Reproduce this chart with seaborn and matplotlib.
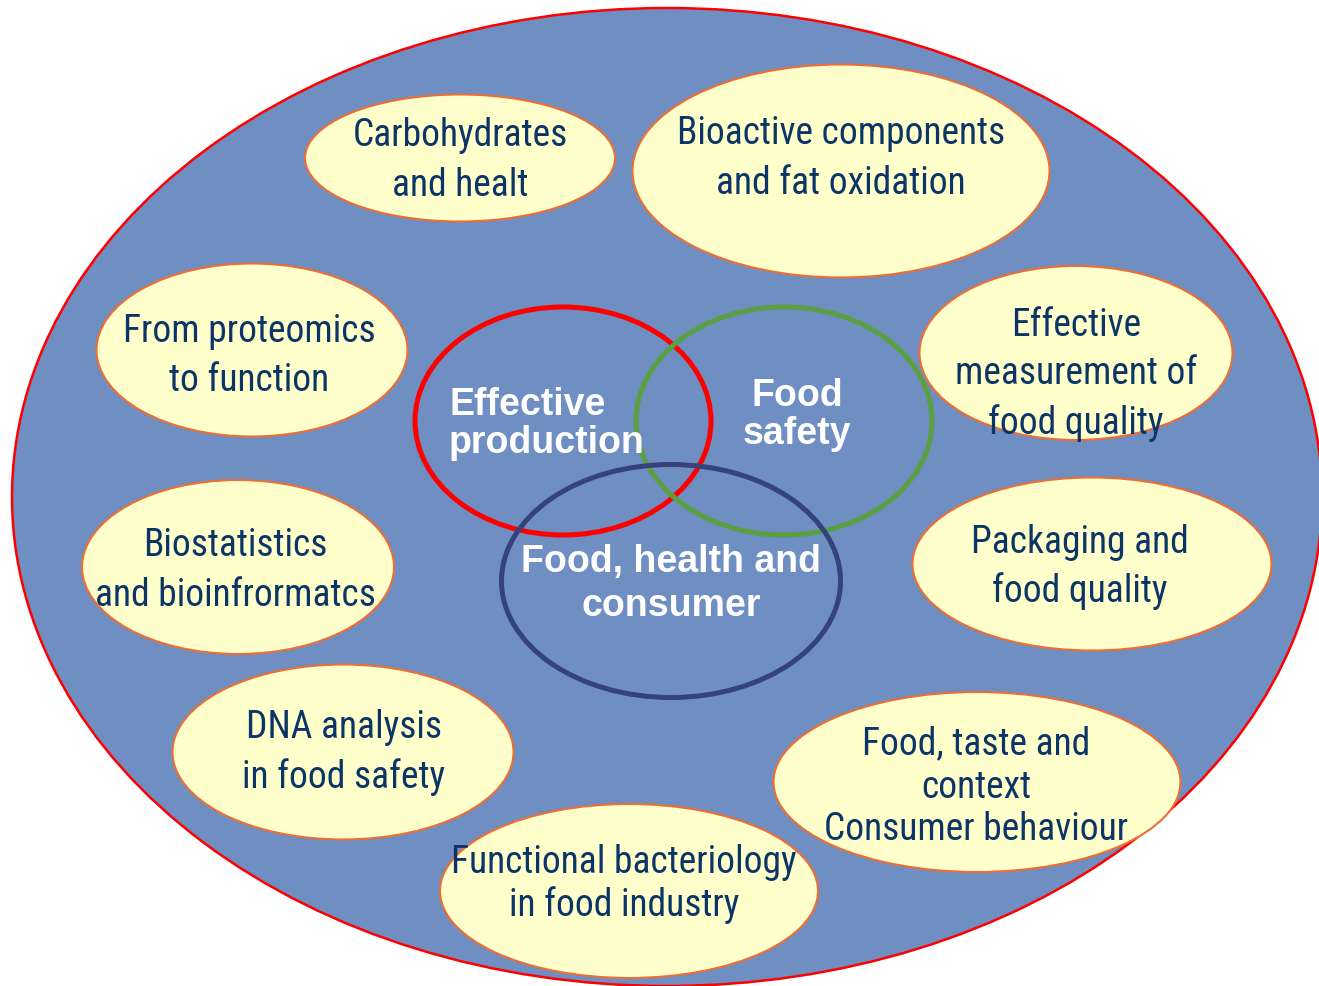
import matplotlib
matplotlib.use("Agg")
import matplotlib.pyplot as plt
from matplotlib.patches import Ellipse
import seaborn as sns

sns.set_theme(style="white")

# topic bubbles around the edge
topics = [
    "Carbohydrates\nand healt",
    "Bioactive components\nand fat oxidation",
    "From proteomics\nto function",
    "Effective\nmeasurement of\nfood quality",
    "Biostatistics\nand bioinfrormatcs",
    "Packaging and\nfood quality",
    "DNA analysis\nin food safety",
    "Food, taste and\ncontext\nConsumer behaviour",
    "Functional bacteriology\nin food industry",
]
topic_cx = [460, 841, 252, 1076, 238, 1092, 343, 977, 629]
topic_cy = [158, 171, 350, 353, 567, 564, 752, 782, 891]
topic_w = [310, 417, 311, 313, 312, 359, 341, 407, 378]
topic_h = [127, 213, 173, 174, 174, 173, 175, 180, 174]
# text anchor and line gap per bubble
text_cx = [460, 841, 249, 1076, 235, 1080, 344, 976, 624]
text_cy = [161, 159, 356, 374, 571, 567, 752, 787, 884]
text_gap = [50, 50, 49, 49, 50, 49, 50, 43, 43]

# venn circles in the middle
venn = ["Effective\nproduction", "Food\nsafety", "Food, health and\nconsumer"]
venn_cx = [563, 784, 671]
venn_cy = [421, 421, 581]
venn_w = [296, 296, 339]
venn_h = [228, 228, 233]
venn_col = ["#ff0000", "#58a042", "#35437a"]
venn_tx = [449, 797, 671]
venn_ty = [424, 415, 584]
venn_gap = [38, 39, 45]
venn_ha = ["left", "center", "center"]

W, H = 1319, 986
fig = plt.figure(figsize=(W / 100, H / 100), dpi=100)
ax = fig.add_axes([0, 0, 1, 1])
ax.set_xlim(0, W)
ax.set_ylim(H, 0)
ax.axis("off")

# big background ellipse
ax.add_patch(Ellipse((667, 497), 1310, 978, facecolor="#6f8ec2",
                     edgecolor="#ff0000", lw=1.8, zorder=1))

narrow = ["Liberation Sans Narrow", "Roboto Condensed", "DejaVu Sans"]
for i, lab in enumerate(topics):
    ax.add_patch(Ellipse((topic_cx[i], topic_cy[i]), topic_w[i], topic_h[i],
                         facecolor="#ffffcc", edgecolor="#ec6e35", lw=1.5, zorder=2))
    lines = lab.split("\n")
    n = len(lines)
    for j, ln in enumerate(lines):
        y = text_cy[i] + (j - (n - 1) / 2) * text_gap[i]
        ax.text(text_cx[i], y, ln, ha="center", va="center", fontsize=27,
                color="#0b3467", family=narrow, zorder=5)

for i, lab in enumerate(venn):
    ax.add_patch(Ellipse((venn_cx[i], venn_cy[i]), venn_w[i], venn_h[i],
                         facecolor="none", edgecolor=venn_col[i], lw=3.6, zorder=3))
    lines = lab.split("\n")
    n = len(lines)
    for j, ln in enumerate(lines):
        y = venn_ty[i] + (j - (n - 1) / 2) * venn_gap[i]
        ax.text(venn_tx[i], y, ln, ha=venn_ha[i], va="center", fontsize=27,
                fontweight="bold", color="white",
                family=["Liberation Sans", "DejaVu Sans"], zorder=5)

fig.savefig("out.png", dpi=100)
